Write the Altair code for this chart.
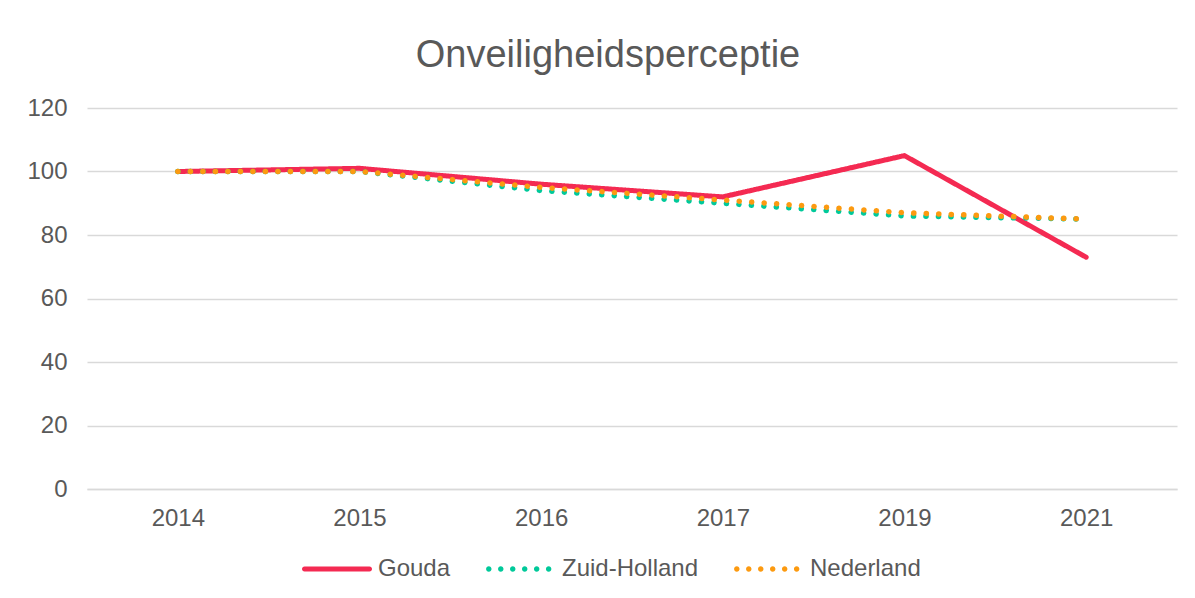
import altair as alt
import pandas as pd

years = ["2014", "2015", "2016", "2017", "2019", "2021"]
series_names = ["Gouda", "Zuid-Holland", "Nederland"]
gouda = [100, 101, 96, 92, 105, 73]
zuid_holland = [100, 100, 94, 90, 86, 85]
nederland = [100, 100, 95, 91, 87, 85]
colors = ["#F42A52", "#00C99A", "#FC9A10"]
dashes = [[1, 0], [0.1, 12.4], [0.1, 12.4]]

rows = []
for name, vals in zip(series_names, [gouda, zuid_holland, nederland]):
    for yr, v in zip(years, vals):
        rows.append({"jaar": yr, "waarde": v, "reeks": name})
df = pd.DataFrame(rows)

FONT = "Liberation Sans"
TXT = "#595959"
GRID = "#D9D9D9"
FS = 24

# legend symbol shapes (unit box -1..1): a rounded bar and a row of six dots
r = 0.0714
solid_path = (
    f"M{-1 + r},{-r} L{1 - r},{-r} A{r},{r} 0 0 1 {1 - r},{r} "
    f"L{-1 + r},{r} A{r},{r} 0 0 1 {-1 + r},{-r} Z"
)
dot_r = 0.078
dot_parts = []
for k in range(6):
    cx = -0.92 + k * 0.342
    dot_parts.append(
        f"M{cx - dot_r:.4f},0 A{dot_r},{dot_r} 0 1 0 {cx + dot_r:.4f},0 "
        f"A{dot_r},{dot_r} 0 1 0 {cx - dot_r:.4f},0 Z"
    )
dots_path = " ".join(dot_parts)
shapes = [solid_path, dots_path, dots_path]

legend = alt.Legend(
    title=None,
    orient="none",
    legendX=215,
    legendY=426,
    direction="horizontal",
    symbolSize=4900,
    symbolStrokeWidth=0,
    symbolOpacity=1,
    labelFontSize=FS,
    labelFont=FONT,
    labelColor=TXT,
    labelOffset=6,
    columnPadding=35,
)

x_enc = alt.X(
    "jaar:N",
    sort=years,
    scale=alt.Scale(type="point", padding=0.5),
    axis=alt.Axis(
        title=None,
        labelAngle=0,
        ticks=False,
        grid=False,
        domainColor=GRID,
        domainWidth=1.3,
        labelFontSize=FS,
        labelFont=FONT,
        labelColor=TXT,
        labelPadding=17,
    ),
)
y_enc = alt.Y(
    "waarde:Q",
    scale=alt.Scale(domain=[0, 120], nice=False, zero=True),
    axis=alt.Axis(
        title=None,
        values=[0, 20, 40, 60, 80, 100, 120],
        ticks=False,
        domain=False,
        gridColor=GRID,
        gridWidth=1.3,
        labelFontSize=FS,
        labelFont=FONT,
        labelColor=TXT,
        labelPadding=20,
    ),
)
color_scale = alt.Scale(domain=series_names, range=colors)

base = alt.Chart(df)

# legend carrier: invisible points, only their legend is shown
legend_layer = (
    base.mark_point(filled=True, opacity=0)
    .encode(
        x=x_enc,
        y=y_enc,
        color=alt.Color("reeks:N", scale=color_scale, legend=legend),
        shape=alt.Shape(
            "reeks:N",
            scale=alt.Scale(domain=series_names, range=shapes),
            legend=legend,
        ),
    )
)

layers = [legend_layer]
for name, width in zip(series_names, [5, 5.5, 5.5]):
    layers.append(
        base.transform_filter(alt.datum.reeks == name)
        .mark_line(strokeWidth=width, strokeCap="round", strokeJoin="miter")
        .encode(
            x=x_enc,
            y=y_enc,
            color=alt.Color("reeks:N", scale=color_scale, legend=None),
            strokeDash=alt.StrokeDash(
                "reeks:N",
                scale=alt.Scale(domain=series_names, range=dashes),
                legend=None,
            ),
        )
    )

chart = (
    alt.layer(*layers)
    .properties(
        width=1090,
        height=381,
        title=alt.TitleParams(
            "Onveiligheidsperceptie",
            fontSize=38,
            font=FONT,
            fontWeight="normal",
            color=TXT,
            anchor="middle",
            offset=21,
            dx=-24,
        ),
        autosize=alt.AutoSizeParams(type="none"),
        padding={"left": 79, "top": 100, "right": 10, "bottom": 100},
    )
    .configure_view(strokeWidth=0, stroke="transparent")
)

chart.save("out.html", embed_options={"renderer": "svg", "actions": False})
